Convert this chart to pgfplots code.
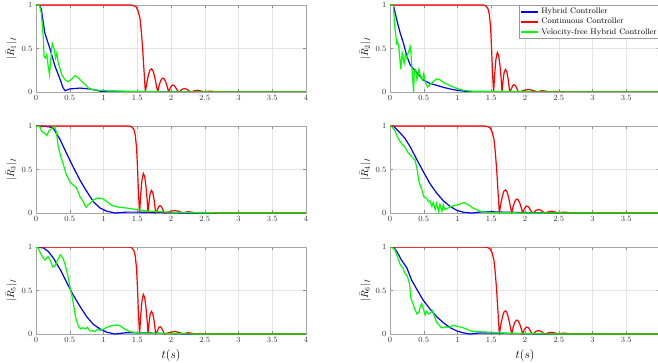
\documentclass[border=0pt]{standalone}
\usepackage{pgfplots}
\pgfplotsset{compat=1.18}
\usepackage{pgfplotstable}

\pgfplotstableread{
t v
0 1
1.40 1
1.44 0.995
1.48 0.98
1.51 0.94
1.54 0.85
1.56 0.7
1.58 0.5
1.60 0.25
1.62 0.0
1.645 0.12
1.67 0.21
1.69 0.255
1.71 0.265
1.73 0.25
1.75 0.2
1.77 0.13
1.79 0.05
1.805 0.0
1.825 0.08
1.85 0.135
1.875 0.16
1.895 0.155
1.92 0.12
1.945 0.06
1.965 0
1.99 0.05
2.02 0.08
2.045 0.075
2.07 0.05
2.10 0.01
2.12 0
2.16 0.03
2.2 0.04
2.24 0.03
2.28 0.005
2.30 0
2.35 0.015
2.4 0.02
2.45 0.01
2.48 0
2.55 0.008
2.6 0.01
2.66 0
2.75 0.005
2.9 0
4 0
}\redA

\pgfplotstableread{
t v
0 1
1.38 1
1.42 0.99
1.45 0.96
1.47 0.9
1.49 0.75
1.505 0.5
1.52 0.2
1.535 0
1.55 0.2
1.57 0.38
1.59 0.455
1.61 0.42
1.63 0.3
1.65 0.12
1.66 0
1.675 0.13
1.69 0.22
1.71 0.26
1.73 0.235
1.75 0.15
1.77 0.02
1.775 0
1.80 0.04
1.82 0.075
1.84 0.085
1.86 0.07
1.885 0.03
1.905 0
1.95 0.01
2.0 0.022
2.06 0.028
2.12 0.018
2.17 0.004
2.2 0.005
2.25 0.015
2.3 0.01
2.35 0.002
2.45 0.006
2.55 0.002
2.7 0
4 0
}\redB

\pgfplotsset{
  myax/.style={
    scale only axis, width=270pt, height=87pt,
    xmin=0, xmax=4, ymin=0, ymax=1,
    xtick={0,0.5,1,1.5,2,2.5,3,3.5,4},
    ytick={0,0.5,1},
    grid=major, major grid style={black!10},
    axis line style={black!35},
    tick style={black!45},
    major tick length=3pt,
    tick label style={font=\footnotesize, text=black!80},
    ylabel style={font=\normalsize, yshift=-2pt},
    xlabel style={font=\large},
    anchor=south west,
  },
  lw/.style={line width=1.2pt},
}

\begin{document}
\begin{tikzpicture}[x=1pt,y=1pt]
\useasboundingbox (0,0) rectangle (658,362);

% ---------- plot 1
\begin{axis}[myax, at={(36pt,270pt)}, ylabel={$|\bar{R}_1|_I$}]
\addplot[blue,lw] coordinates {(0,1) (0.05,1) (0.08,0.95) (0.13,0.68) (0.21,0.49) (0.28,0.30) (0.36,0.14) (0.40,0.05) (0.43,0.015) (0.5,0.035) (0.65,0.045) (0.8,0.035) (0.95,0.01) (1.05,0) (4,0)};
\addplot[red,lw] table[x=t,y=v] {\redA};
\addplot[green,lw] coordinates {(0,1) (0.05,1) (0.08,0.9) (0.11,0.6) (0.12,0.41) (0.14,0.39) (0.16,0.43) (0.18,0.3) (0.2,0.2) (0.22,0.39) (0.24,0.56) (0.27,0.49) (0.29,0.39) (0.31,0.45) (0.33,0.33) (0.36,0.26) (0.38,0.2) (0.43,0.14) (0.48,0.12) (0.53,0.15) (0.58,0.19) (0.63,0.16) (0.68,0.12) (0.73,0.085) (0.78,0.045) (0.85,0.025) (0.95,0.02) (1.1,0.015) (1.3,0.01) (1.5,0.005) (2,0) (4,0)};
\end{axis}

% ---------- plot 2
\begin{axis}[myax, at={(390pt,270pt)}, ylabel={$|\bar{R}_2|_I$},
  legend style={at={(1,1)}, anchor=north east, font=\footnotesize, draw=black!40, inner sep=1pt, row sep=-1pt},
  legend image post style={line width=1.8pt},
  legend cell align=left]
\addplot[blue,lw] coordinates {(0,1) (0.05,1) (0.1,0.83) (0.15,0.68) (0.2,0.56) (0.25,0.41) (0.3,0.31) (0.4,0.22) (0.49,0.14) (0.59,0.10) (0.69,0.077) (0.79,0.054) (0.89,0.035) (0.99,0.02) (1.09,0.01) (1.23,0) (4,0)};
\addlegendentry{Hybrid Controller}
\addplot[red,lw] table[x=t,y=v] {\redB};
\addlegendentry{Continuous Controller}
\addplot[green,lw] coordinates {(0,1) (0.05,1) (0.07,0.75) (0.1,0.56) (0.11,0.58) (0.13,0.52) (0.16,0.26) (0.18,0.45) (0.21,0.33) (0.23,0.43) (0.25,0.39) (0.27,0.45) (0.3,0.52) (0.31,0.45) (0.33,0.22) (0.35,0) (0.36,0.24) (0.38,0.26) (0.40,0.14) (0.43,0.26) (0.45,0.18) (0.48,0.14) (0.50,0.21) (0.53,0.10) (0.56,0.057) (0.59,0.084) (0.64,0.12) (0.69,0.15) (0.74,0.14) (0.79,0.11) (0.86,0.084) (0.94,0.057) (1.01,0.035) (1.09,0.02) (1.19,0.01) (1.4,0.008) (1.8,0.003) (2.5,0) (4,0)};
\addlegendentry{Velocity-free Hybrid Controller}
\end{axis}

% ---------- plot 3
\begin{axis}[myax, at={(36pt,149pt)}, ylabel={$|\bar{R}_3|_I$}]
\addplot[blue,lw] coordinates {(0,1) (0.13,0.995) (0.2,0.99) (0.26,0.97) (0.36,0.84) (0.45,0.69) (0.55,0.53) (0.65,0.38) (0.75,0.25) (0.85,0.13) (0.95,0.057) (1.05,0.02) (1.17,0) (1.34,0.01) (1.54,0.01) (1.8,0.005) (2.2,0) (4,0)};
\addplot[red,lw] table[x=t,y=v] {\redB};
\addplot[green,lw] coordinates {(0,1) (0.06,0.99) (0.08,0.94) (0.12,0.92) (0.16,0.89) (0.19,0.94) (0.23,0.97) (0.27,0.99) (0.30,0.94) (0.33,0.76) (0.36,0.67) (0.40,0.57) (0.45,0.44) (0.50,0.36) (0.55,0.32) (0.60,0.29) (0.65,0.19) (0.70,0.13) (0.74,0.065) (0.78,0.10) (0.8,0.11) (0.85,0.15) (0.9,0.17) (0.95,0.17) (1.0,0.16) (1.05,0.13) (1.12,0.09) (1.2,0.07) (1.34,0.057) (1.49,0.04) (1.64,0.025) (1.8,0.015) (2.0,0.01) (2.3,0.005) (2.8,0) (4,0)};
\end{axis}

% ---------- plot 4
\begin{axis}[myax, at={(390pt,149pt)}, ylabel={$|\bar{R}_4|_I$}]
\addplot[blue,lw] coordinates {(0,1) (0.05,1) (0.15,0.92) (0.22,0.86) (0.30,0.76) (0.40,0.61) (0.49,0.48) (0.59,0.34) (0.69,0.23) (0.79,0.14) (0.89,0.076) (0.99,0.03) (1.09,0.008) (1.21,0) (1.33,0.01) (1.48,0.015) (1.68,0.01) (2.0,0.005) (2.4,0) (4,0)};
\addplot[red,lw] table[x=t,y=v] {\redA};
\addplot[green,lw] coordinates {(0,1) (0.015,1) (0.07,0.95) (0.12,0.86) (0.17,0.80) (0.22,0.76) (0.27,0.69) (0.32,0.65) (0.37,0.61) (0.40,0.51) (0.43,0.36) (0.47,0.27) (0.50,0.19) (0.54,0.17) (0.57,0.13) (0.59,0.14) (0.62,0.076) (0.64,0.12) (0.67,0.04) (0.69,0.11) (0.72,0.02) (0.74,0.10) (0.77,0.02) (0.79,0.095) (0.81,0.04) (0.86,0.057) (0.91,0.076) (0.96,0.088) (1.01,0.095) (1.06,0.11) (1.10,0.12) (1.16,0.095) (1.23,0.057) (1.31,0.03) (1.38,0.01) (1.6,0.005) (2,0) (4,0)};
\end{axis}

% ---------- plot 5
\begin{axis}[myax, at={(36pt,28pt)}, ylabel={$|\bar{R}_5|_I$}, xlabel={$t(s)$}]
\addplot[blue,lw] coordinates {(0,1) (0.11,0.99) (0.18,0.95) (0.26,0.87) (0.36,0.74) (0.45,0.60) (0.55,0.45) (0.65,0.32) (0.75,0.20) (0.85,0.11) (0.95,0.058) (1.05,0.02) (1.17,0) (1.34,0.015) (1.54,0.015) (1.8,0.008) (2.2,0) (4,0)};
\addplot[red,lw] table[x=t,y=v] {\redB};
\addplot[green,lw] coordinates {(0,1) (0.03,0.99) (0.08,0.91) (0.13,0.85) (0.18,0.89) (0.22,0.83) (0.25,0.77) (0.28,0.78) (0.32,0.85) (0.36,0.91) (0.40,0.87) (0.43,0.80) (0.47,0.68) (0.50,0.55) (0.53,0.45) (0.56,0.32) (0.59,0.18) (0.63,0.085) (0.66,0.058) (0.69,0.073) (0.73,0.058) (0.76,0.077) (0.80,0.035) (0.84,0.038) (0.87,0.027) (0.91,0.054) (0.95,0.042) (1.0,0.058) (1.05,0.077) (1.12,0.096) (1.2,0.104) (1.24,0.096) (1.32,0.054) (1.39,0.027) (1.49,0.015) (1.7,0.008) (2.0,0.003) (2.5,0) (4,0)};
\end{axis}

% ---------- plot 6
\begin{axis}[myax, at={(390pt,28pt)}, ylabel={$|\bar{R}_6|_I$}, xlabel={$t(s)$}]
\addplot[blue,lw] coordinates {(0,1) (0.05,1) (0.1,0.95) (0.17,0.85) (0.25,0.76) (0.32,0.62) (0.40,0.51) (0.49,0.39) (0.59,0.29) (0.69,0.20) (0.79,0.13) (0.89,0.073) (0.99,0.035) (1.09,0.012) (1.19,0) (1.33,0.012) (1.53,0.012) (1.8,0.006) (2.2,0) (4,0)};
\addplot[red,lw] table[x=t,y=v] {\redA};
\addplot[green,lw] coordinates {(0,1) (0.02,1) (0.07,0.97) (0.12,0.87) (0.15,0.80) (0.19,0.76) (0.22,0.70) (0.26,0.66) (0.29,0.57) (0.31,0.41) (0.34,0.35) (0.37,0.28) (0.40,0.23) (0.43,0.25) (0.45,0.32) (0.47,0.35) (0.49,0.30) (0.52,0.22) (0.54,0.26) (0.57,0.23) (0.59,0.24) (0.62,0.26) (0.63,0.27) (0.66,0.20) (0.69,0.135) (0.73,0.10) (0.76,0.073) (0.79,0.073) (0.82,0.085) (0.86,0.073) (0.90,0.085) (0.93,0.10) (0.96,0.095) (1.01,0.085) (1.06,0.077) (1.11,0.065) (1.19,0.035) (1.28,0.027) (1.48,0.02) (1.68,0.01) (2.0,0.004) (2.5,0) (4,0)};
\end{axis}
\end{tikzpicture}
\end{document}
